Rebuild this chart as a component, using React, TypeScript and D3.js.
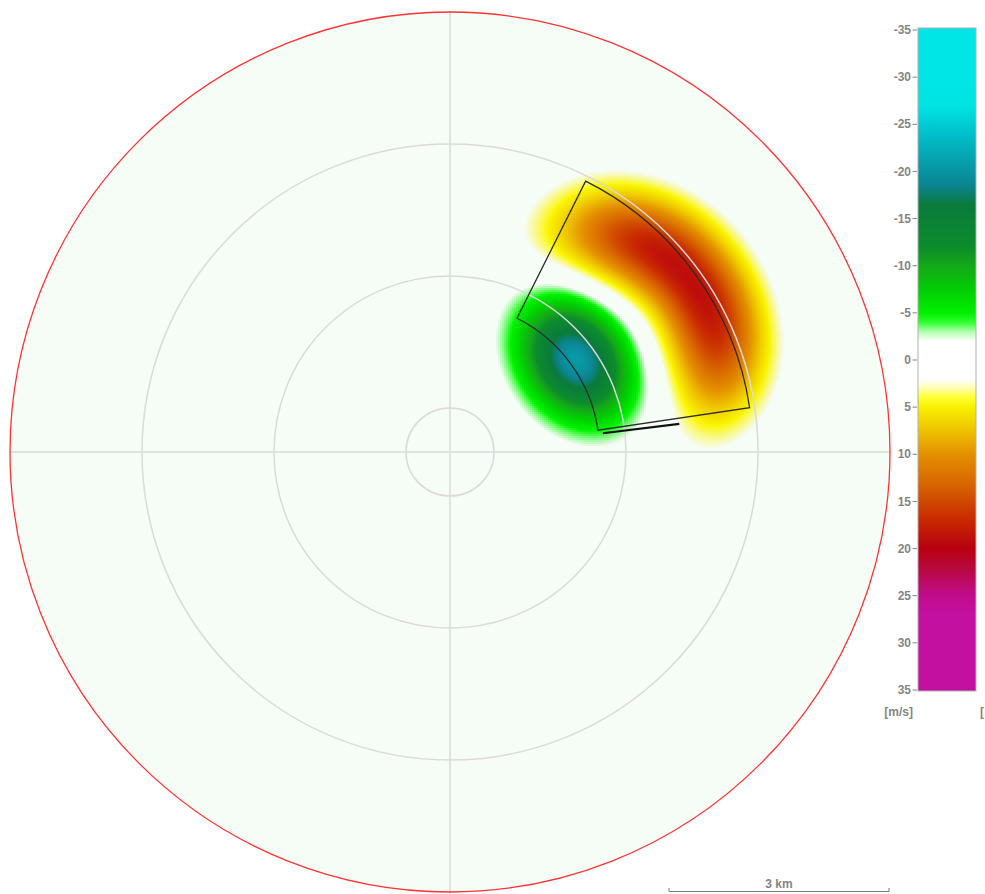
import React, { useMemo } from 'react';
import * as d3 from 'd3';

// ---------- data ----------
const maxRangeKm = 6;
const ringRangesKm = [0.6, 2.4, 4.2, 6.0];
const scaleBarKm = 3;
const scaleBarLabel = '3 km';
const unitLabel = '[m/s]';

// velocity colour table (m/s -> colour)
const colorValues = [-35, -27, -24, -18.5, -16.5, -12, -10, -7, -5, -4, -3, -2, 2, 3, 4, 5, 7, 10, 13, 15, 17, 20, 22, 25, 27, 35];
const colorHex = [
  '#00e6e6', '#00e4e4', '#00c0cc', '#0b8490', '#0a7a3c', '#0c8c2c', '#14a818', '#00d400', '#00f000', '#30ff30', '#b0ffb0', '#ffffff',
  '#ffffff', '#ffffb0', '#ffff30', '#f8f000', '#f0cc00', '#e49000', '#d86800', '#d04800', '#c82800', '#b80010', '#b8083c', '#c00c8c', '#c410a0', '#c410a0',
];
const colorbarTicks = [-35, -30, -25, -20, -15, -10, -5, 0, 5, 10, 15, 20, 25, 30, 35];

// inbound (approaching) core: centre [range km, azimuth deg], peak m/s, sigma [radial km, tangential km]
const inboundCenter = [2.125, 53.9];
const inboundPeak = -20.5;
const inboundSigmaKm = [0.475, 0.61];

// outbound (receding) crescent: ring centre [range km, azimuth deg], peak m/s,
// ring [radius km, width km], arc [centre deg, half-width scale deg]
const outboundCenter = [2.352, 56.6];
const outboundPeak = 19;
const outboundRingKm = [1.677, 0.47];
const outboundArcDeg = [50, 51];

// selection sector & marker
const sectorRangeKm = [2.04, 4.13];
const sectorAzimuthDeg = [26.6, 81.6];
const markerAzimuthDeg = 83;
const markerRangeKm = [2.1, 3.15];

// ---------- layout ----------
const W = 985;
const H = 894;
const CX = 450;
const CY = 452;
const R = 440;
const FONT = '"Liberation Sans", Arial, sans-serif';
const LABEL = '#858585';

const rScale = d3.scaleLinear().domain([0, maxRangeKm]).range([0, R]);
const colorScale = d3
  .scaleLinear<string>()
  .domain(colorValues)
  .range(colorHex)
  .interpolate(d3.interpolateRgb)
  .clamp(true);
const barY = d3.scaleLinear().domain([-35, 35]).range([30, 690]);

const rad = (d: number) => (d * Math.PI) / 180;

function velocityAt(xKm: number, yKm: number): number {
  // inbound ellipse
  const ia = rad(inboundCenter[1]);
  const gx = inboundCenter[0] * Math.sin(ia);
  const gy = inboundCenter[0] * Math.cos(ia);
  const dx1 = xKm - gx;
  const dy1 = yKm - gy;
  const du = dx1 * Math.sin(ia) + dy1 * Math.cos(ia);
  const dt = dx1 * Math.cos(ia) - dy1 * Math.sin(ia);
  const v1 = inboundPeak * Math.exp(-0.5 * ((du / inboundSigmaKm[0]) ** 2 + (dt / inboundSigmaKm[1]) ** 2));
  // outbound crescent
  const oa = rad(outboundCenter[1]);
  const ox = outboundCenter[0] * Math.sin(oa);
  const oy = outboundCenter[0] * Math.cos(oa);
  const dx2 = xKm - ox;
  const dy2 = yKm - oy;
  const rho = Math.hypot(dx2, dy2);
  let th = (Math.atan2(dx2, dy2) * 180) / Math.PI - outboundArcDeg[0];
  while (th > 180) th -= 360;
  while (th < -180) th += 360;
  const v2 =
    outboundPeak *
    Math.exp(-0.5 * ((rho - outboundRingKm[0]) / outboundRingKm[1]) ** 2 - 0.5 * Math.abs(th / outboundArcDeg[1]) ** 3);
  return v1 + v2;
}

function polarXY(rKm: number, azDeg: number): [number, number] {
  const r = rScale(rKm);
  const a = rad(azDeg);
  return [CX + r * Math.sin(a), CY - r * Math.cos(a)];
}

export default function App() {
  const cells = useMemo(() => {
    const out: { x: number; y: number; c: string; a: number }[] = [];
    const step = 2;
    const pxPerKm = rScale(1);
    for (let py = 140; py < 480; py += step) {
      for (let px = 460; px < 820; px += step) {
        const xKm = (px + step / 2 - CX) / pxPerKm;
        const yKm = (CY - (py + step / 2)) / pxPerKm;
        const v = velocityAt(xKm, yKm);
        const av = Math.abs(v);
        const a = Math.max(0, Math.min(1, (av - 2.3) / 2.3));
        if (a < 0.03) continue;
        const cv = Math.sign(v) * Math.max(av, 4.6);
        out.push({ x: px, y: py, c: colorScale(cv), a });
      }
    }
    return out;
  }, []);

  const sectorPath =
    d3.arc()({
      innerRadius: rScale(sectorRangeKm[0]),
      outerRadius: rScale(sectorRangeKm[1]),
      startAngle: rad(sectorAzimuthDeg[0]),
      endAngle: rad(sectorAzimuthDeg[1]),
    } as any) || '';

  const [m1x, m1y] = polarXY(markerRangeKm[0], markerAzimuthDeg);
  const [m2x, m2y] = polarXY(markerRangeKm[1], markerAzimuthDeg);

  const sbRight = CX + R - 1;
  const sbLeft = sbRight - (rScale(scaleBarKm) - rScale(0));
  const sbY = 891.5;

  const barX = 918;
  const barW = 58;
  const barTop = 28;
  const barBottom = 691;

  return (
    <svg
      width={W}
      height={H}
      style={{ position: 'absolute', left: 0, top: 0, background: '#ffffff' }}
      xmlns="http://www.w3.org/2000/svg"
    >
      <defs>
        <linearGradient id="vel" x1="0" y1={barTop} x2="0" y2={barBottom} gradientUnits="userSpaceOnUse">
          {colorValues.map((v, i) => (
            <stop key={i} offset={(barY(v) - barTop) / (barBottom - barTop)} stopColor={colorHex[i]} />
          ))}
        </linearGradient>
      </defs>

      {/* plot background */}
      <circle cx={CX} cy={CY} r={R} fill="#f6fcf6" />

      {/* velocity field */}
      <g shapeRendering="crispEdges">
        {cells.map((d, i) => (
          <rect key={i} x={d.x} y={d.y} width={2} height={2} fill={d.c} fillOpacity={d.a} />
        ))}
      </g>

      {/* grid */}
      <line x1={CX - R} x2={CX + R} y1={CY} y2={CY} stroke="#e2e2e2" strokeWidth={2} />
      <line x1={CX} x2={CX} y1={CY - R} y2={CY + R} stroke="#e2e2e2" strokeWidth={2} />
      {ringRangesKm.slice(0, -1).map((r) => (
        <circle key={r} cx={CX} cy={CY} r={rScale(r)} fill="none" stroke="#dadada" strokeWidth={1.5} />
      ))}
      <circle cx={CX} cy={CY} r={rScale(ringRangesKm[ringRangesKm.length - 1])} fill="none" stroke="#ff3333" strokeWidth={1.3} />

      {/* sector */}
      <path d={sectorPath} transform={`translate(${CX},${CY})`} fill="none" stroke="#2b2b2b" strokeWidth={1.3} />
      <line x1={m1x} y1={m1y} x2={m2x} y2={m2y} stroke="#111" strokeWidth={2.2} />

      {/* scale bar */}
      <g stroke="#777" strokeWidth={1} fill="none">
        <line x1={sbLeft} x2={sbRight} y1={sbY} y2={sbY} />
        <line x1={sbLeft} x2={sbLeft} y1={sbY - 3.5} y2={sbY} />
        <line x1={sbRight} x2={sbRight} y1={sbY - 3.5} y2={sbY} />
      </g>
      <text x={(sbLeft + sbRight) / 2} y={888} textAnchor="middle" fontFamily={FONT} fontSize={12} fontWeight="bold" fill={LABEL}>
        {scaleBarLabel}
      </text>

      {/* colour bar */}
      <rect x={barX} y={barTop} width={barW} height={barBottom - barTop} fill="url(#vel)" stroke="#b0b0b0" strokeWidth={1} />
      {colorbarTicks.map((t) => (
        <g key={t}>
          <line x1={912.5} x2={917} y1={barY(t)} y2={barY(t)} stroke={LABEL} strokeWidth={1} />
          <text
            x={911}
            y={barY(t)}
            dy="0.35em"
            textAnchor="end"
            fontFamily={FONT}
            fontSize={12}
            fontWeight="bold"
            fill={LABEL}
          >
            {t}
          </text>
        </g>
      ))}
      <text x={913} y={712} dy="0.35em" textAnchor="end" fontFamily={FONT} fontSize={12} fontWeight="bold" fill={LABEL}>
        {unitLabel}
      </text>
      <text x={980} y={712} dy="0.35em" textAnchor="start" fontFamily={FONT} fontSize={12} fontWeight="bold" fill={LABEL}>
        [
      </text>
    </svg>
  );
}
